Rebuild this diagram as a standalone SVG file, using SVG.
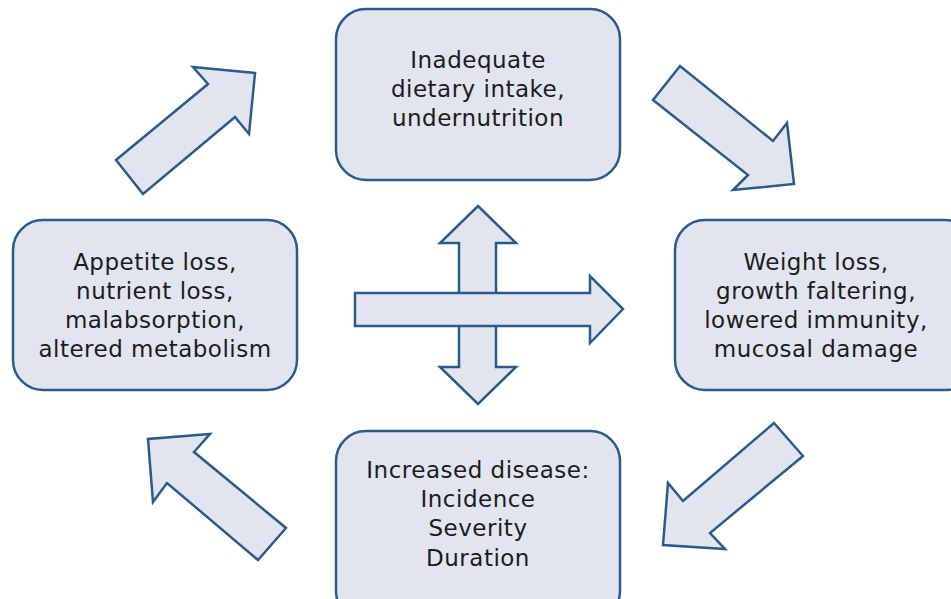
<svg xmlns="http://www.w3.org/2000/svg" width="951" height="599" viewBox="0 0 951 599">
<style>
.box{fill:#e2e5ef;stroke:#2b5b8c;stroke-width:2.5}
.arr{fill:#e2e5ef;stroke:#2b5b8c;stroke-width:2.5;stroke-linejoin:miter}
.t{font-family:"DejaVu Sans","Liberation Sans",sans-serif;font-size:23px;letter-spacing:0.5px;fill:#1c1c1c;text-anchor:middle}
</style>
<rect width="951" height="599" fill="#ffffff"/>
<g id="top">
<rect class="box" x="336" y="9" width="284" height="171" rx="30"/>
<text class="t"><tspan x="478" y="68">Inadequate</tspan><tspan x="478" y="97">dietary intake,</tspan><tspan x="478" y="126">undernutrition</tspan></text>
</g>
<g id="left">
<rect class="box" x="13" y="220" width="284" height="170" rx="30"/>
<text class="t"><tspan x="155" y="270">Appetite loss,</tspan><tspan x="155" y="299">nutrient loss,</tspan><tspan x="155" y="328">malabsorption,</tspan><tspan x="155" y="357">altered metabolism</tspan></text>
</g>
<g id="right">
<rect class="box" x="675" y="220" width="300" height="170" rx="30"/>
<text class="t"><tspan x="816" y="270">Weight loss,</tspan><tspan x="816" y="299">growth faltering,</tspan><tspan x="816" y="328">lowered immunity,</tspan><tspan x="816" y="357">mucosal damage</tspan></text>
</g>
<g id="bottom">
<rect class="box" x="336" y="431" width="284" height="190" rx="30"/>
<text class="t"><tspan x="478" y="478">Increased disease:</tspan><tspan x="478" y="507">Incidence</tspan><tspan x="478" y="536">Severity</tspan><tspan x="478" y="566">Duration</tspan></text>
</g>
<g id="connectors">
<polygon class="arr" points="116,160 208,84 193,67 255,73 249,134 235,117 143,194"/>
<polygon class="arr" points="653,100 680,66 773,141 787,123 794,184 733,190 748,175"/>
<polygon class="arr" points="774,423 803,456 710,533 725,549 663,545 668,483 683,501"/>
<polygon class="arr" points="286,528 258,560 167,483 153,502 148,439 210,434 194,452"/>
<polygon class="arr" points="478,206 516,243 496,243 496,367 516,367 478,404 440,367 459,367 459,243 440,243"/>
<polygon class="arr" points="355,293 590,293 590,276 623,309 590,343 590,326 355,326"/>
</g>
</svg>
